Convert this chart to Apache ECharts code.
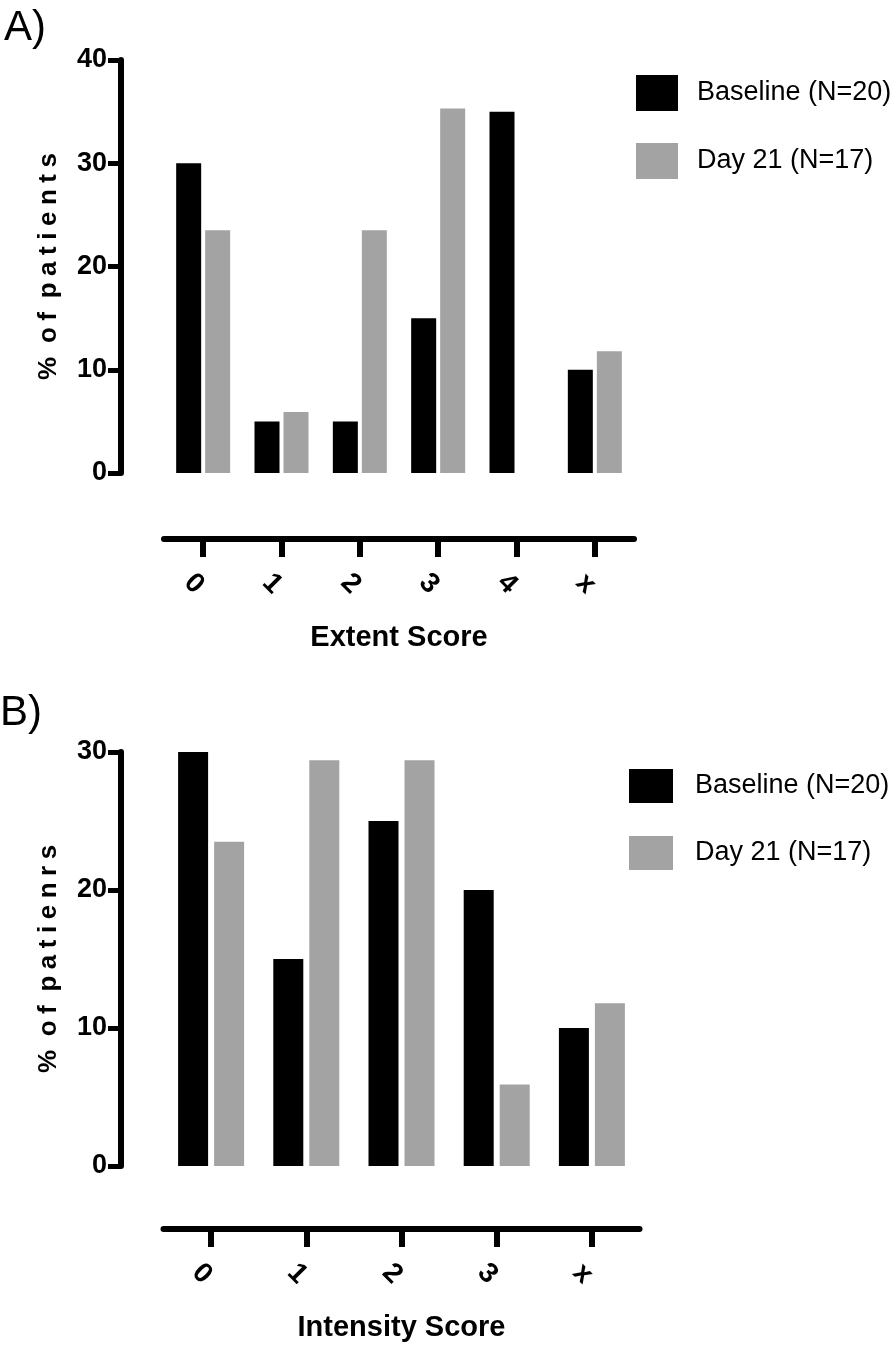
<!DOCTYPE html>
<html>
<head>
<meta charset="utf-8">
<script src="https://cdn.jsdelivr.net/npm/echarts@6/dist/echarts.min.js"></script>
<style>
html,body{margin:0;padding:0;background:#fff;}
#chart{width:891px;height:1349px;}
</style>
</head>
<body>
<div id="chart"></div>
<script>
// ---- data ----
const seriesNames = ['Baseline (N=20)', 'Day 21 (N=17)'];
const extentCategories = ['0', '1', '2', '3', '4', 'x'];
const extentBaseline = [30, 5, 5, 15, 35, 10];
const extentDay21 = [23.5, 5.9, 23.5, 35.3, 0, 11.8];
const intensityCategories = ['0', '1', '2', '3', 'x'];
const intensityBaseline = [30, 15, 25, 20, 10];
const intensityDay21 = [23.5, 29.4, 29.4, 5.9, 11.8];
const extentYTicks = { min: 0, max: 40, interval: 10 };
const intensityYTicks = { min: 0, max: 30, interval: 10 };

// ---- styles ----
const BLACK = '#000000';
const GRAY = '#a3a3a3';
const SANS = '"Liberation Sans", Arial, Helvetica, sans-serif';
const SP = '\u2005';

function spaced(txt) {
  return txt.split(' ').map(w => w.split('').join(SP)).join(' ' + SP);
}

function yAxis(gridIndex, ticks, name, offset, nameGap) {
  return {
    type: 'value', gridIndex: gridIndex, position: 'left', offset: offset,
    min: ticks.min, max: ticks.max, interval: ticks.interval,
    name: spaced(name), nameLocation: 'middle', nameRotate: 90, nameGap: nameGap,
    nameTextStyle: { fontFamily: SANS, fontWeight: 'bold', fontSize: 26, color: BLACK },
    axisLine: { show: true, onZero: false, lineStyle: { color: BLACK, width: 6 } },
    axisTick: { show: true, length: 13, lineStyle: { color: BLACK, width: 5 } },
    axisLabel: { margin: 14, fontFamily: SANS, fontWeight: 'bold', fontSize: 27, color: BLACK },
    splitLine: { show: false }
  };
}
function xAxis(gridIndex, cats, name, offset, nameGap) {
  return {
    type: 'category', gridIndex: gridIndex, data: cats, position: 'bottom', offset: offset,
    name: name, nameLocation: 'middle', nameGap: nameGap,
    nameTextStyle: { fontFamily: SANS, fontWeight: 'bold', fontSize: 29, color: BLACK },
    axisLine: { show: true, onZero: false, lineStyle: { color: BLACK, width: 6 } },
    axisTick: { show: true, alignWithLabel: true, length: 18, lineStyle: { color: BLACK, width: 6 } },
    axisLabel: { rotate: -45, align: 'center', verticalAlign: 'middle', margin: 54,
      padding: [0, 26, 0, 0],
      fontFamily: SANS, fontWeight: 'bold', fontSize: 28, color: BLACK },
    splitLine: { show: false }
  };
}
function legend(left, top, w, h, gap, padLeft) {
  return {
    orient: 'vertical', left: left, top: top, padding: 0,
    itemWidth: w, itemHeight: h, itemGap: gap, icon: 'rect',
    data: seriesNames,
    textStyle: { fontFamily: SANS, fontSize: 27, color: BLACK, padding: [0, 0, 0, padLeft] }
  };
}

const option = {
  animation: false,
  backgroundColor: '#ffffff',
  title: [
    { text: 'A)', left: 4, top: 7, padding: 0, textStyle: { fontFamily: SANS, fontWeight: 'normal', fontSize: 42, color: BLACK } },
    { text: 'B)', left: 0, top: 692, padding: 0, textStyle: { fontFamily: SANS, fontWeight: 'normal', fontSize: 42, color: BLACK } }
  ],
  legend: [
    legend(636, 75, 42, 36, 32, 14),
    legend(629, 769, 44, 34, 33, 17)
  ],
  grid: [
    { left: 164, top: 60, width: 470, height: 413, containLabel: false, outerBoundsMode: 'none' },
    { left: 163.5, top: 752, width: 476, height: 414, containLabel: false, outerBoundsMode: 'none' }
  ],
  xAxis: [
    xAxis(0, extentCategories, 'Extent Score', 66, 84),
    xAxis(1, intensityCategories, 'Intensity Score', 63, 84)
  ],
  yAxis: [
    yAxis(0, extentYTicks, '% of patients', 43, 59),
    yAxis(1, intensityYTicks, '% of patienrs', 42.5, 59)
  ],
  series: [
    { name: seriesNames[0], type: 'bar', xAxisIndex: 0, yAxisIndex: 0, data: extentBaseline,
      barWidth: 25, barGap: '16%', itemStyle: { color: BLACK } },
    { name: seriesNames[1], type: 'bar', xAxisIndex: 0, yAxisIndex: 0, data: extentDay21,
      barWidth: 25, barGap: '16%', itemStyle: { color: GRAY } },
    { name: seriesNames[0], type: 'bar', xAxisIndex: 1, yAxisIndex: 1, data: intensityBaseline,
      barWidth: 30, barGap: '20%', itemStyle: { color: BLACK } },
    { name: seriesNames[1], type: 'bar', xAxisIndex: 1, yAxisIndex: 1, data: intensityDay21,
      barWidth: 30, barGap: '20%', itemStyle: { color: GRAY } }
  ]
};

const chart = echarts.init(document.getElementById('chart'), null, { renderer: 'canvas', width: 891, height: 1349 });
chart.setOption(option);
</script>
</body>
</html>
